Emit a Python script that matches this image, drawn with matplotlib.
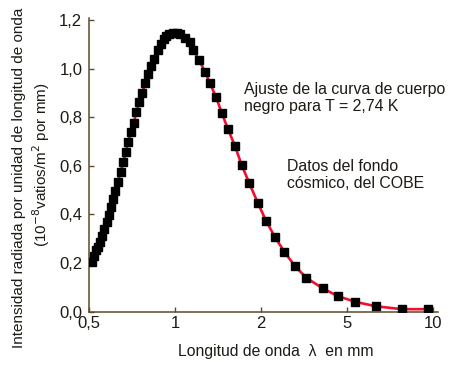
import numpy as np
import matplotlib
matplotlib.use("Agg")
import matplotlib.pyplot as plt
from matplotlib.ticker import FixedLocator, FixedFormatter

plt.rcParams['font.family'] = ['Liberation Sans', 'DejaVu Sans']

# COBE data points (wavelength in mm, intensity in 1e-8 W/m^2 per mm)
lam = [0.510, 0.520, 0.528, 0.535, 0.545, 0.552, 0.563, 0.576, 0.585, 0.597,
       0.607, 0.616, 0.629, 0.644, 0.657, 0.671, 0.684, 0.700, 0.716, 0.731,
       0.749, 0.767, 0.786, 0.805, 0.825, 0.845, 0.869, 0.890, 0.912, 0.931,
       0.954, 0.986, 1.013, 1.043, 1.083, 1.125, 1.160, 1.213, 1.273, 1.326,
       1.392, 1.457, 1.530, 1.622, 1.712, 1.821, 1.949, 2.111, 2.318, 2.569,
       2.877, 3.248, 3.862, 4.542, 5.359, 6.33, 7.80, 9.67]
inten = [0.205, 0.228, 0.253, 0.267, 0.287, 0.312, 0.338, 0.367, 0.397, 0.429,
         0.464, 0.497, 0.534, 0.573, 0.614, 0.655, 0.697, 0.738, 0.777, 0.820,
         0.861, 0.900, 0.941, 0.979, 1.012, 1.041, 1.075, 1.101, 1.122, 1.133,
         1.142, 1.148, 1.147, 1.141, 1.127, 1.111, 1.075, 1.035, 0.987, 0.939,
         0.882, 0.818, 0.753, 0.681, 0.603, 0.528, 0.448, 0.374, 0.308, 0.246,
         0.187, 0.139, 0.096, 0.064, 0.040, 0.022, 0.010, 0.010]

# blackbody fit curve
fit_lam = [0.5] + lam + [10.0]
fit_val = [0.195] + inten + [0.008]

xticks = [0.5, 1, 2, 5, 10]
xticklabels = ["0,5", "1", "2", "5", "10"]
yticks = [0.0, 0.2, 0.4, 0.6, 0.8, 1.0, 1.2]
yticklabels = ["0,0", "0,2", "0,4", "0,6", "0,8", "1,0", "1,2"]

# the original axis puts 0.5, 1, 2, 5, 10 at equal spacing
knots = np.log([0.25, 0.5, 1, 2, 5, 10, 20])
slots = np.arange(-1, 6)


def fwd(x):
    with np.errstate(divide='ignore', invalid='ignore'):
        return np.interp(np.log(np.asarray(x, dtype=float)), knots, slots)


def inv(u):
    return np.exp(np.interp(np.asarray(u, dtype=float), slots, knots))


txt = '#1e1a14'
axc = '#5c4a2a'

fig = plt.figure(figsize=(4.52, 3.65), dpi=100)
ax = fig.add_axes([0.1976, 0.1463, 0.7714, 0.8057])
ax.set_xscale('function', functions=(fwd, inv))

ax.plot(fit_lam, fit_val, color='#f0102e', lw=1.9, zorder=2)
ax.plot(lam, inten, 's', color='black', ms=5.2, zorder=3)

ax.set_xlim(0.5, 10.45)
ax.set_ylim(0, 1.21)
ax.xaxis.set_major_locator(FixedLocator(xticks))
ax.xaxis.set_major_formatter(FixedFormatter(xticklabels))
ax.xaxis.set_minor_locator(FixedLocator([]))
ax.set_yticks(yticks)
ax.set_yticklabels(yticklabels)

for s in ['top', 'right']:
    ax.spines[s].set_visible(False)
for s in ['left', 'bottom']:
    ax.spines[s].set_color(axc)
    ax.spines[s].set_linewidth(1.1)
ax.tick_params(direction='in', length=3.5, width=1, color=axc,
               labelsize=12, labelcolor=txt)
ax.tick_params(axis='y', pad=5)
ax.tick_params(axis='x', pad=3)

fig.text(0.611, 0.036, "Longitud de onda  λ  en mm", fontsize=11.3,
         color=txt, ha='center', va='center')

fig.text(0.041, 0.512, "Intensidad radiada por unidad de longitud de onda",
         rotation=90, ha='center', va='center', fontsize=11, color=txt)
fig.text(0.090, 0.548, "(10$^{-8}$vatios/m$^2$ por mm)",
         rotation=90, ha='center', va='center', fontsize=11, color=txt)

fig.text(0.540, 0.732, "Ajuste de la curva de cuerpo\nnegro para T = 2,74 K",
         fontsize=11.4, color=txt, va='center', ha='left', linespacing=1.2)
fig.text(0.636, 0.520, "Datos del fondo\ncósmico, del COBE",
         fontsize=11.4, color=txt, va='center', ha='left', linespacing=1.2)

fig.savefig('out.png', dpi=100, facecolor='white')
